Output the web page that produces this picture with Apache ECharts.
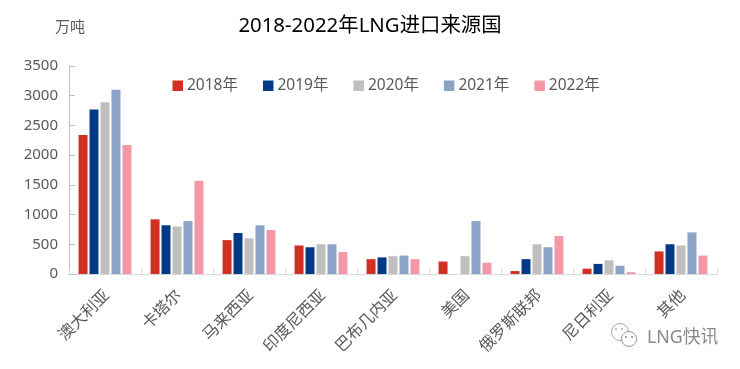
<!DOCTYPE html>
<html><head><meta charset="utf-8">
<style>html,body{margin:0;padding:0;background:#fff}#c{width:740px;height:369px}</style>
<script src="https://cdn.jsdelivr.net/npm/echarts@6/dist/echarts.min.js"></script>
</head><body><div id="c"></div>
<script>
const categories=['澳大利亚','卡塔尔','马来西亚','印度尼西亚','巴布几内亚','美国','俄罗斯联邦','尼日利亚','其他'];
const s2018=[2340,920,570,480,250,210,50,90,380];
const s2019=[2770,820,690,450,280,0,250,170,500];
const s2020=[2890,800,600,500,300,300,500,230,480];
const s2021=[3100,890,820,500,310,890,450,140,700];
const s2022=[2170,1570,740,370,250,190,640,30,310];
const names=['2018年','2019年','2020年','2021年','2022年'];
const colors=['#D33024','#033A86','#BFBFBF','#8AA3C6','#F498A6'];
const font='"Noto Sans","Noto Sans CJK SC",sans-serif';
const chart=echarts.init(document.getElementById('c'),null,{renderer:'canvas'});
chart.setOption({
 animation:false,backgroundColor:'#fff',
 title:{text:'2018-2022年LNG进口来源国',left:365,top:11,textAlign:'center',textStyle:{color:'#000',fontSize:20.4,fontWeight:'normal',fontFamily:font}},
 legend:{top:78,left:172.5,padding:0,itemWidth:10.5,itemHeight:10.5,itemGap:25,icon:'rect',data:names,textStyle:{color:'#595959',fontSize:15.5,fontFamily:font,padding:[0,0,0,-1]}},
 grid:{left:69,right:23,top:66,bottom:95,containLabel:false},
 xAxis:{type:'category',data:categories,
  axisLine:{lineStyle:{color:'#D9D9D9',width:1}},
  axisTick:{show:true,inside:true,length:6,alignWithLabel:false,lineStyle:{color:'#D9D9D9'}},
  axisLabel:{rotate:45,interval:0,margin:21,color:'#595959',fontSize:16,fontFamily:font,padding:[0,-3,0,0]}},
 yAxis:{type:'value',min:0,max:3500,interval:500,name:'万吨',nameLocation:'end',nameGap:31,
  nameTextStyle:{color:'#595959',fontSize:15,fontFamily:font,align:'right',padding:[0,-16,0,0]},
  axisLine:{show:true,lineStyle:{color:'#BFBFBF'}},
  axisTick:{show:true,inside:true,length:6,lineStyle:{color:'#BFBFBF'}},
  splitLine:{show:false},
  axisLabel:{color:'#595959',fontSize:15,margin:11,fontFamily:font,formatter:v=>String(v)}},
 series:[s2018,s2019,s2020,s2021,s2022].map((d,i)=>({type:'bar',name:names[i],data:d,barWidth:9,barGap:'22%',itemStyle:{color:colors[i]}})),
 graphic:[
  {type:'text',left:647,top:329,style:{text:'LNG快讯',fill:'#8a8a8a',font:'17.8px '+font}},
  {type:'circle',shape:{cx:620,cy:332,r:8.5},style:{fill:'#fff',stroke:'#aaa',lineWidth:1}},
  {type:'circle',shape:{cx:629,cy:339,r:7.5},style:{fill:'#fff',stroke:'#999',lineWidth:1}},
  {type:'circle',shape:{cx:616,cy:329,r:1},style:{fill:'#aaa'}},
  {type:'circle',shape:{cx:622,cy:329,r:1},style:{fill:'#aaa'}},
  {type:'circle',shape:{cx:626,cy:337,r:1},style:{fill:'#888'}},
  {type:'circle',shape:{cx:632,cy:337,r:1},style:{fill:'#888'}}
 ]
});
</script></body></html>
